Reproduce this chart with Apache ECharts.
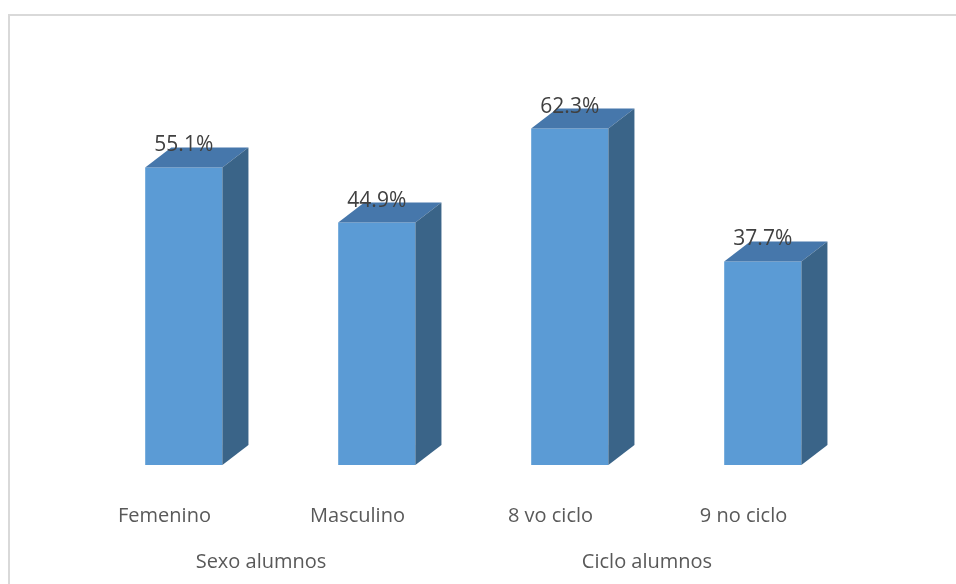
<!DOCTYPE html>
<html>
<head>
<meta charset="utf-8">
<script src="https://cdn.jsdelivr.net/npm/echarts@6/dist/echarts.min.js"></script>
<style>
  html, body { margin: 0; padding: 0; background: #fff; }
  #chart { width: 956px; height: 584px; }
</style>
</head>
<body>
<div id="chart"></div>
<script>
// data
const categories = ['Femenino', 'Masculino', '8 vo ciclo', '9 no ciclo']
const groups = ['Sexo alumnos', 'Ciclo alumnos']
const values = [55.1, 44.9, 62.3, 37.7]

const chart = echarts.init(document.getElementById('chart'))

// 3d-ish box: front face, top, right side
function renderBox(params, api) {
  const base = api.coord([api.value(0), 0])
  const top = api.coord([api.value(0), api.value(1)])
  const band = api.size([1, 0])[0]
  const bw = band * 0.4
  const shift = band * 0.1 // bars sit a bit right of the label, like excel's perspective
  const dx = band * 0.135
  const dy = 20
  const x0 = base[0] + shift - bw / 2
  const x1 = x0 + bw
  const yb = base[1]
  const yt = top[1]
  return {
    type: 'group',
    children: [
      {
        type: 'polygon',
        shape: { points: [[x0, yb], [x1, yb], [x1, yt], [x0, yt]] },
        style: { fill: '#5b9bd5' }
      },
      {
        type: 'polygon',
        shape: { points: [[x0, yt], [x1, yt], [x1 + dx, yt - dy], [x0 + dx, yt - dy]] },
        style: { fill: '#4677ab' }
      },
      {
        type: 'polygon',
        shape: { points: [[x1, yb], [x1 + dx, yb - dy], [x1 + dx, yt - dy], [x1, yt]] },
        style: { fill: '#3a6488' }
      },
      {
        type: 'text',
        style: {
          text: api.value(1).toFixed(1) + '%',
          x: x0 + bw / 2,
          y: yt - 22,
          align: 'center',
          verticalAlign: 'middle',
          fill: '#404040',
          font: '21px "Open Sans"'
        }
      }
    ]
  }
}

chart.setOption({
  animation: false,
  graphic: [{
    type: 'rect',
    shape: { x: 9, y: 15, width: 980, height: 620 },
    style: { fill: 'none', stroke: '#d9d9d9', lineWidth: 2 },
    silent: true
  }],
  grid: {
    left: 68,
    right: 116,
    top: 87,
    bottom: 119
  },
  xAxis: [{
    type: 'category',
    data: categories,
    axisLine: { show: false },
    axisTick: { show: false },
    axisLabel: {
      margin: 41,
      fontFamily: 'Open Sans',
      fontSize: 20,
      color: '#595959'
    }
  }, {
    type: 'category',
    position: 'bottom',
    data: groups,
    axisLine: { show: false },
    axisTick: { show: false },
    axisLabel: {
      margin: 87,
      fontFamily: 'Open Sans',
      fontSize: 20,
      color: '#595959'
    }
  }],
  yAxis: {
    type: 'value',
    min: 0,
    max: 70,
    show: false,
    splitLine: { show: false }
  },
  series: [{
    type: 'custom',
    xAxisIndex: 0,
    renderItem: renderBox,
    data: values.map((v, i) => [i, v])
  }]
})
</script>
</body>
</html>
